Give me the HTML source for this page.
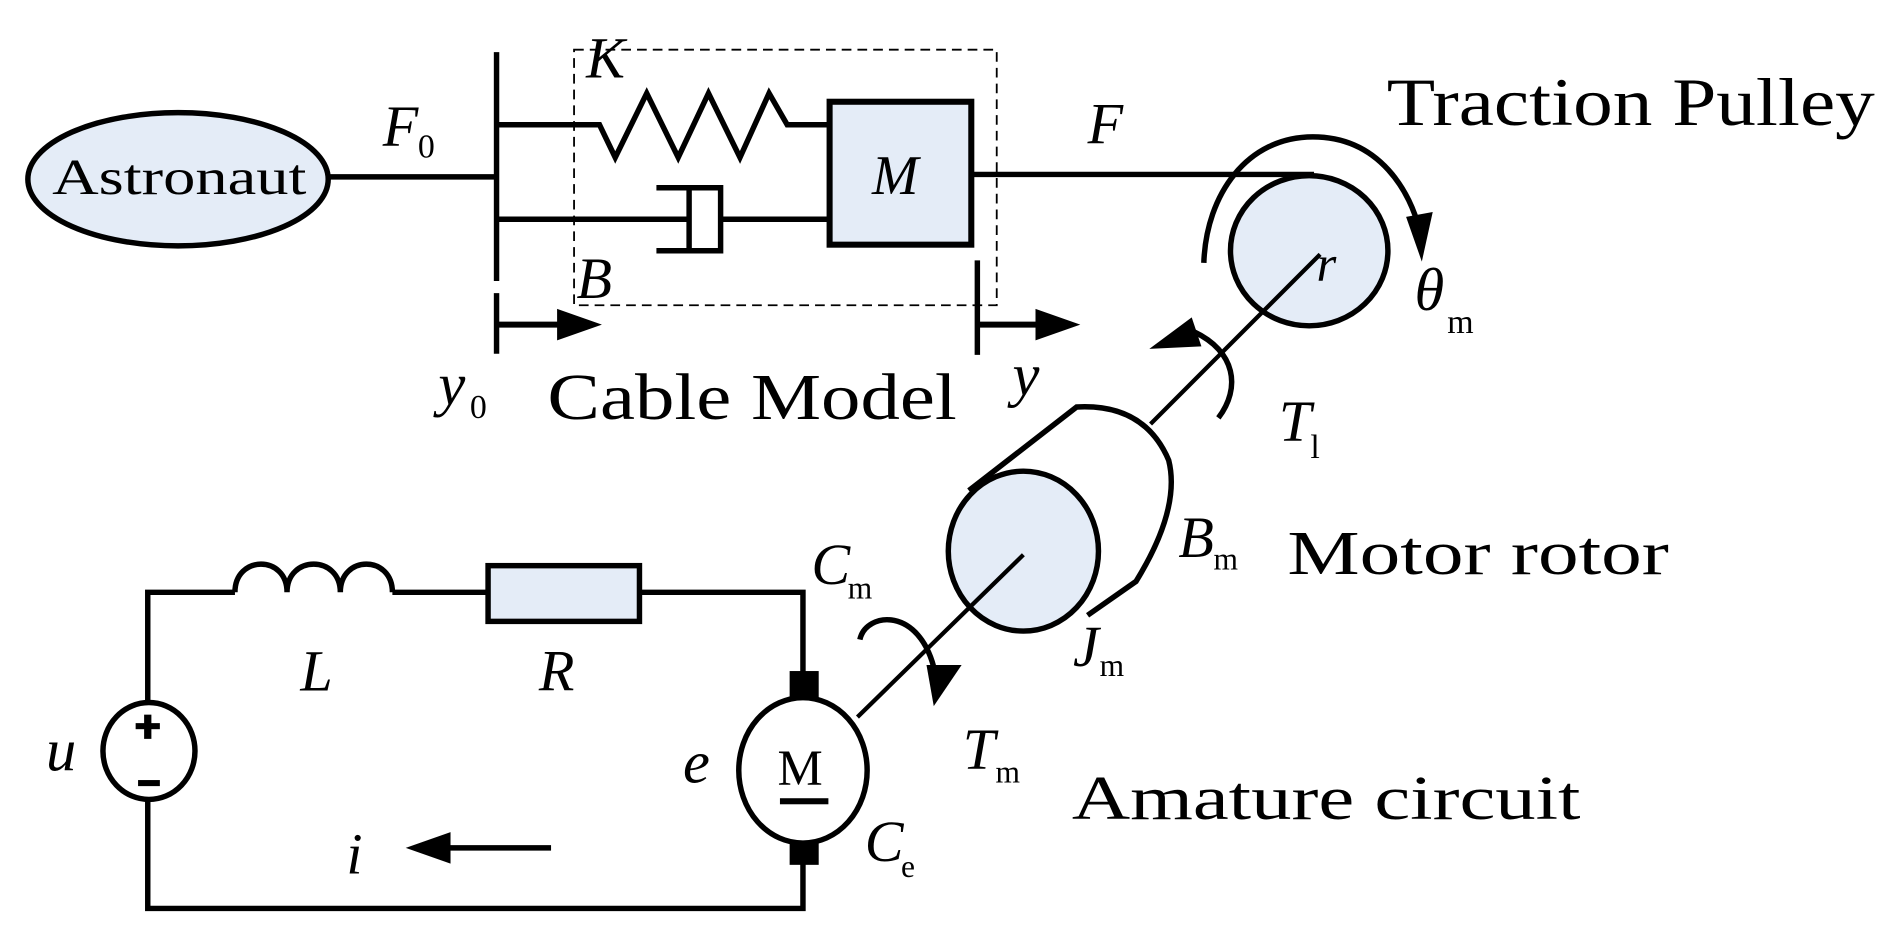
<!DOCTYPE html>
<html><head><meta charset="utf-8"><style>
html,body{margin:0;padding:0;background:#fff;}
svg{display:block;}
text{font-family:"Liberation Serif",serif;fill:#000;}
.i{font-style:italic;}
</style></head><body>
<svg width="1899" height="946" viewBox="0 0 1568 781" preserveAspectRatio="none" xmlns="http://www.w3.org/2000/svg">
<g fill="none" stroke="#000" stroke-width="4.5" stroke-linejoin="miter">
<ellipse cx="147" cy="148" rx="124" ry="55" fill="#e4ecf7"/>
<line x1="271" y1="146" x2="410" y2="146"/>
<line x1="410" y1="43" x2="410" y2="232"/>
<line x1="410" y1="242" x2="410" y2="292"/>
<line x1="410" y1="268" x2="465" y2="268" stroke-width="5"/>
<rect x="474" y="41" width="349" height="211" stroke-width="1.5" stroke-dasharray="8,5"/>
<polyline points="410,103 495,103 508,130 534,77 560,130 585,77 611,130 635,77 650,103 685,103"/>
<line x1="410" y1="181" x2="569" y2="181"/>
<polyline points="542,155 595,155 595,207 542,207"/>
<line x1="569" y1="155" x2="569" y2="207"/>
<line x1="595" y1="181" x2="685" y2="181"/>
<rect x="685" y="84" width="117" height="118" fill="#e4ecf7" stroke-width="5"/>
<line x1="807" y1="215" x2="807" y2="293"/>
<line x1="807" y1="268" x2="860" y2="268" stroke-width="5"/>
<line x1="802" y1="144" x2="1085" y2="144"/>
<ellipse cx="1081" cy="207" rx="65" ry="62" fill="#e4ecf7"/>
<path d="M994,217 C996,160 1030,113 1084,113 C1140,113 1165,160 1172,190"/>
<line x1="1090" y1="210" x2="950" y2="350" stroke-width="3.5"/>
<line x1="845" y1="458" x2="708" y2="592" stroke-width="3.5"/>
<path d="M1006,345 C1025,320 1020,290 986,274"/>
<path d="M800,405 L889,336 Q945,333 965,380 Q975,420 938,480 L898,508" fill="#fff"/>
<ellipse cx="845" cy="455" rx="62" ry="66" fill="#e4ecf7"/>
<line x1="845" y1="458" x2="800" y2="502" stroke-width="3.5"/>
<path d="M710,528 C715,505 760,500 772,555"/>
<polyline points="122,580 122,489 194,489"/>
<path d="M194,489 C194,458 237,458 237,489 C237,458 281,458 281,489 C281,458 324,458 324,489"/>
<line x1="324" y1="489" x2="403" y2="489"/>
<rect x="403" y="467" width="125" height="46" fill="#e4ecf7"/>
<polyline points="528,489 663,489 663,556"/>
<polyline points="122,660 122,750 663,750 663,712"/>
<ellipse cx="123" cy="620" rx="38" ry="40"/>
<ellipse cx="663" cy="636" rx="53" ry="60"/>
<line x1="455" y1="700" x2="365" y2="700"/>
</g>
<g fill="#000" stroke="none">
<polygon points="460,255 497,268 460,281"/>
<polygon points="855,255 892,268 855,281"/>
<polygon points="1161,179 1183,175 1174,216"/>
<polygon points="984,262 992,286 949,288"/>
<polygon points="765,549 794,549 771,583"/>
<polygon points="335,700 372,687 372,713"/>
<rect x="652" y="554" width="24" height="22"/>
<rect x="652" y="694" width="24" height="20"/>
<rect x="644" y="659" width="40" height="5"/>
<rect x="119" y="590" width="6" height="20"/>
<rect x="112" y="597" width="20" height="5"/>
<rect x="114" y="644" width="18" height="5"/>
</g>
<text x="43" y="160" font-size="42" textLength="210" lengthAdjust="spacingAndGlyphs">Astronaut</text>
<text x="316" y="120" font-size="48" class="i">F</text><text x="345" y="130" font-size="28">0</text>
<text x="484" y="64" font-size="48" class="i">K</text>
<text x="476" y="246" font-size="48" class="i">B</text>
<text x="720" y="160" font-size="46" class="i">M</text>
<text x="362" y="334" font-size="50" class="i">y</text><text x="388" y="345" font-size="28">0</text>
<text x="452" y="346" font-size="54" textLength="338" lengthAdjust="spacingAndGlyphs">Cable Model</text>
<text x="836" y="326" font-size="50" class="i">y</text>
<text x="898" y="118" font-size="48" class="i">F</text>
<text x="1145" y="103" font-size="56" textLength="403" lengthAdjust="spacingAndGlyphs">Traction Pulley</text>
<text x="1087" y="232" font-size="42" class="i">r</text>
<text x="1168" y="256" font-size="50" class="i">θ</text><text x="1195" y="275" font-size="28">m</text>
<text x="1056" y="364" font-size="48" class="i">T</text><text x="1082" y="378" font-size="28">l</text>
<text x="973" y="460" font-size="48" class="i">B</text><text x="1002" y="470" font-size="26">m</text>
<text x="1063" y="474" font-size="52" textLength="315" lengthAdjust="spacingAndGlyphs">Motor rotor</text>
<text x="886" y="550" font-size="48" class="i">J</text><text x="908" y="558" font-size="26">m</text>
<text x="670" y="482" font-size="48" class="i">C</text><text x="700" y="494" font-size="26">m</text>
<text x="795" y="635" font-size="48" class="i">T</text><text x="822" y="646" font-size="26">m</text>
<text x="885" y="676" font-size="52" textLength="420" lengthAdjust="spacingAndGlyphs">Amature circuit</text>
<text x="714" y="711" font-size="48" class="i">C</text><text x="744" y="724" font-size="26">e</text>
<text x="564" y="646" font-size="50" class="i">e</text>
<text x="642" y="648" font-size="42">M</text>
<text x="38" y="636" font-size="50" class="i">u</text>
<text x="248" y="570" font-size="48" class="i">L</text>
<text x="445" y="570" font-size="48" class="i">R</text>
<text x="286" y="721" font-size="48" class="i">i</text>
</svg>
</body></html>
